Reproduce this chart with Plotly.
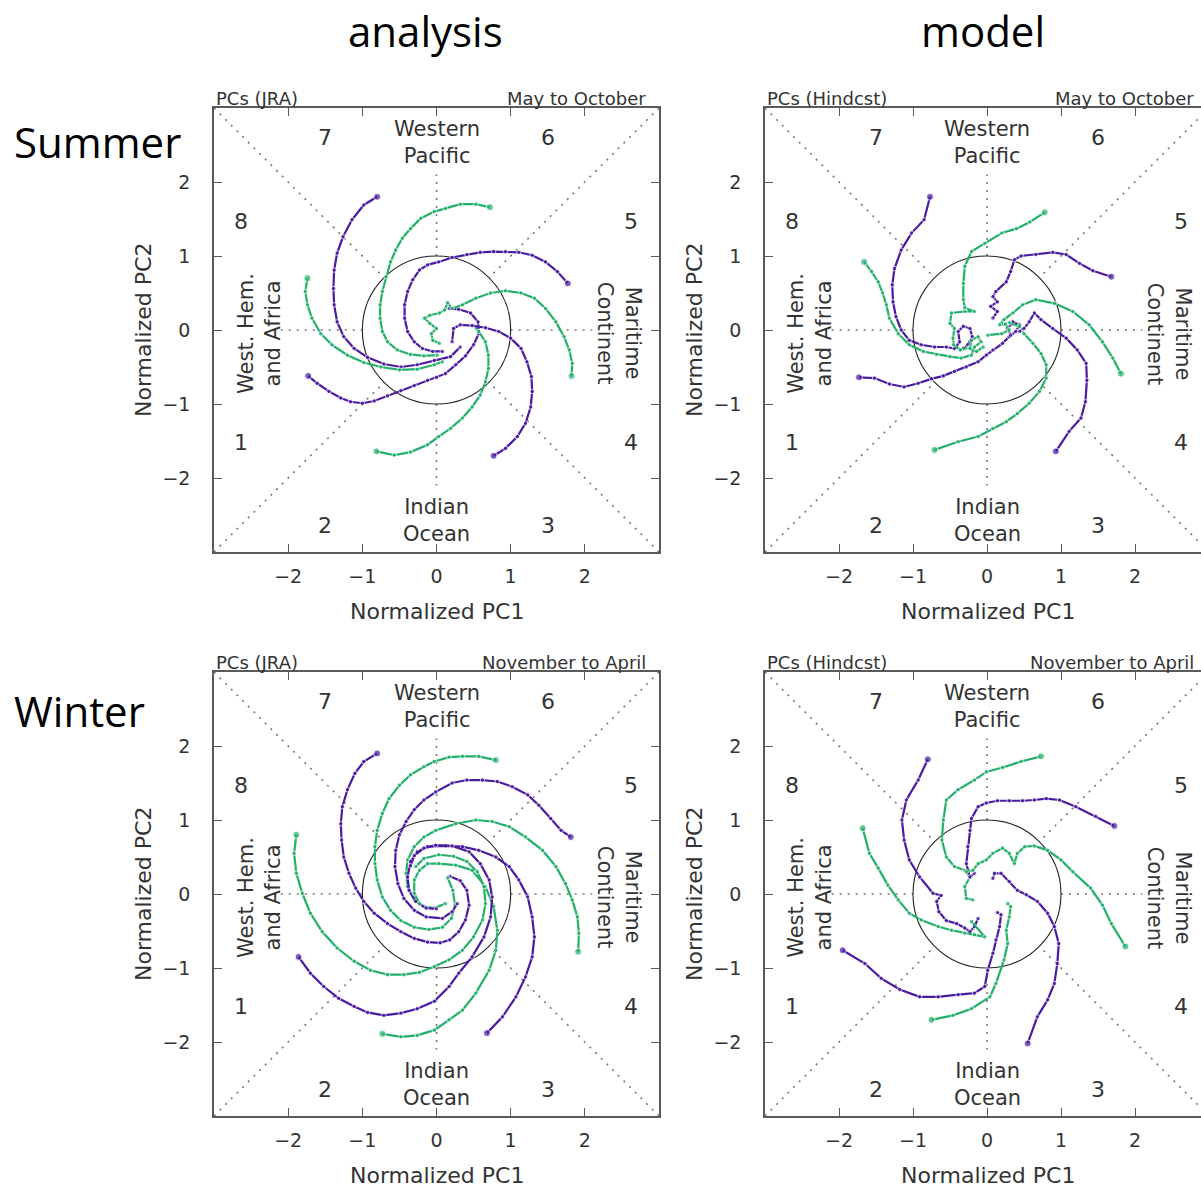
import plotly.graph_objects as go

PURPLE = '#4a1aa0'
GREEN = '#22b06a'

# ---------------- Summer / analysis (PCs JRA, May to October) ----------------
sa_purple_1 = [(-0.80,1.80),(-0.98,1.69),(-1.14,1.49),(-1.26,1.26),(-1.34,1.04),(-1.38,0.81),(-1.39,0.56),(-1.38,0.34),(-1.34,0.11),(-1.25,-0.09),(-1.11,-0.25),(-0.93,-0.37),(-0.71,-0.46),(-0.48,-0.50),(-0.26,-0.47),(-0.03,-0.41),(0.19,-0.36),(0.32,-0.23)]
sa_green_1 = [(0.72,1.66),(0.53,1.70),(0.32,1.70),(0.12,1.64),(-0.03,1.60),(-0.21,1.51),(-0.35,1.37),(-0.46,1.24),(-0.55,1.08),(-0.62,0.92),(-0.68,0.72),(-0.73,0.52),(-0.76,0.34),(-0.76,0.16),(-0.73,-0.02),(-0.66,-0.16),(-0.53,-0.27),(-0.35,-0.33),(-0.17,-0.35),(0.01,-0.34)]
sa_green_2 = [(-1.74,0.70),(-1.77,0.52),(-1.74,0.34),(-1.68,0.16),(-1.56,-0.05),(-1.41,-0.20),(-1.20,-0.34),(-0.98,-0.44),(-0.75,-0.50),(-0.50,-0.54),(-0.26,-0.53),(-0.03,-0.47),(0.08,-0.43)]
sa_purple_2 = [(-1.73,-0.62),(-1.61,-0.72),(-1.45,-0.83),(-1.29,-0.92),(-1.16,-0.97),(-1.00,-0.99),(-0.84,-0.96),(-0.66,-0.89),(-0.48,-0.82),(-0.30,-0.75),(-0.12,-0.68),(0.00,-0.64),(0.12,-0.59),(0.26,-0.47),(0.39,-0.35),(0.50,-0.20),(0.57,-0.05),(0.56,0.11),(0.46,0.23),(0.30,0.28),(0.17,0.29)]
sa_green_3 = [(-0.81,-1.64),(-0.57,-1.69),(-0.35,-1.65),(-0.12,-1.55),(0.03,-1.44),(0.19,-1.33),(0.35,-1.19),(0.48,-1.04),(0.59,-0.88),(0.66,-0.70),(0.70,-0.52),(0.70,-0.34),(0.66,-0.16),(0.57,-0.02),(0.50,0.06)]
sa_purple_3 = [(0.77,-1.70),(0.93,-1.60),(1.09,-1.44),(1.20,-1.26),(1.27,-1.04),(1.29,-0.83),(1.28,-0.63),(1.22,-0.43),(1.14,-0.25),(1.00,-0.11),(0.84,-0.02),(0.66,0.03),(0.48,0.06),(0.32,0.07),(0.23,0.02),(0.21,-0.16)]
sa_green_4 = [(1.82,-0.62),(1.83,-0.45),(1.79,-0.27),(1.72,-0.09),(1.61,0.11),(1.47,0.29),(1.32,0.43),(1.14,0.50),(0.93,0.53),(0.73,0.50),(0.53,0.43),(0.35,0.34),(0.21,0.29),(0.15,0.37),(0.11,0.27),(0.04,0.23),(-0.09,0.20),(-0.16,0.16),(-0.09,0.09),(0.00,0.02),(-0.07,-0.05),(-0.05,-0.14),(0.04,-0.18)]
sa_purple_4 = [(1.77,0.63),(1.63,0.79),(1.47,0.92),(1.29,1.01),(1.11,1.05),(0.93,1.06),(0.77,1.06),(0.59,1.05),(0.41,1.02),(0.21,0.98),(0.03,0.92),(-0.12,0.88),(-0.23,0.81),(-0.32,0.68),(-0.39,0.52),(-0.43,0.34),(-0.43,0.16),(-0.39,-0.02),(-0.30,-0.16),(-0.19,-0.25),(-0.05,-0.29),(0.08,-0.29)]

# ---------------- Summer / model (PCs Hindcst, May to October) ----------------
sm_purple_1 = [(-0.77,1.80),(-0.85,1.49),(-1.02,1.31),(-1.16,1.08),(-1.25,0.83),(-1.28,0.61),(-1.27,0.38),(-1.23,0.18),(-1.16,0.00),(-1.05,-0.14),(-0.89,-0.20),(-0.71,-0.23),(-0.55,-0.23),(-0.44,-0.25),(-0.37,-0.16),(-0.39,-0.02),(-0.32,0.05),(-0.23,0.02),(-0.20,-0.09),(-0.26,-0.20),(-0.32,-0.25)]
sm_green_1 = [(0.78,1.59),(0.58,1.46),(0.40,1.37),(0.20,1.31),(-0.03,1.17),(-0.21,1.06),(-0.30,0.86),(-0.32,0.63),(-0.32,0.41),(-0.30,0.30),(-0.17,0.25),(-0.30,0.25),(-0.48,0.23),(-0.50,0.09),(-0.44,0.02),(-0.46,-0.11),(-0.45,-0.20),(-0.36,-0.27),(-0.23,-0.23)]
sm_green_2 = [(-1.66,0.92),(-1.56,0.79),(-1.47,0.65),(-1.41,0.50),(-1.36,0.34),(-1.32,0.16),(-1.20,-0.05),(-1.05,-0.20),(-0.86,-0.29),(-0.68,-0.33),(-0.50,-0.36),(-0.35,-0.38),(-0.21,-0.34),(-0.17,-0.23),(-0.08,-0.16),(-0.12,-0.09),(-0.21,-0.14),(-0.23,-0.25),(-0.14,-0.29),(-0.05,-0.23)]
sm_purple_2 = [(-1.73,-0.64),(-1.52,-0.65),(-1.32,-0.73),(-1.12,-0.77),(-0.93,-0.72),(-0.75,-0.66),(-0.59,-0.62),(-0.44,-0.56),(-0.28,-0.50),(-0.12,-0.43),(-0.01,-0.34),(0.08,-0.27),(0.21,-0.18),(0.30,-0.09),(0.39,-0.02),(0.44,0.07),(0.35,0.11),(0.28,0.02),(0.32,-0.07)]
sm_green_3 = [(-0.71,-1.62),(-0.39,-1.51),(-0.12,-1.44),(0.08,-1.33),(0.26,-1.24),(0.41,-1.13),(0.57,-0.99),(0.71,-0.83),(0.80,-0.65),(0.80,-0.47),(0.73,-0.32),(0.62,-0.18),(0.50,-0.05),(0.44,0.05),(0.30,0.10)]
sm_purple_3 = [(0.93,-1.64),(1.11,-1.37),(1.27,-1.19),(1.33,-0.97),(1.35,-0.68),(1.34,-0.45),(1.22,-0.27),(1.07,-0.11),(0.89,0.02),(0.73,0.14),(0.64,0.23),(0.57,0.11),(0.50,0.02),(0.44,-0.02)]
sm_purple_4 = [(1.68,0.72),(1.43,0.80),(1.25,0.90),(1.07,1.02),(0.89,1.05),(0.66,1.02),(0.46,1.00),(0.37,0.95),(0.32,0.79),(0.26,0.65),(0.12,0.52),(0.08,0.45),(0.14,0.38),(0.05,0.32),(0.14,0.25),(0.08,0.16)]
sm_green_4 = [(1.81,-0.59),(1.70,-0.38),(1.56,-0.16),(1.38,0.07),(1.16,0.25),(0.91,0.36),(0.66,0.41),(0.48,0.34),(0.35,0.23),(0.23,0.14),(0.17,0.07),(0.25,0.08),(0.30,0.00),(0.20,-0.05),(0.01,-0.07)]

# ---------------- Winter / analysis (PCs JRA, November to April) ----------------
wa_purple_1 = [(-0.80,1.90),(-0.98,1.79),(-1.10,1.63),(-1.20,1.41),(-1.27,1.18),(-1.29,0.95),(-1.28,0.73),(-1.25,0.50),(-1.18,0.28),(-1.09,0.08),(-0.98,-0.10),(-0.84,-0.26),(-0.66,-0.40),(-0.48,-0.51),(-0.30,-0.60),(-0.12,-0.65),(0.05,-0.66),(0.18,-0.62),(0.30,-0.51),(0.39,-0.35),(0.44,-0.15),(0.41,0.05),(0.32,0.18),(0.18,0.24)]
wa_green_1 = [(0.80,1.81),(0.57,1.86),(0.35,1.86),(0.17,1.85),(-0.03,1.79),(-0.17,1.72),(-0.35,1.61),(-0.50,1.47),(-0.64,1.29),(-0.73,1.09),(-0.80,0.86),(-0.83,0.64),(-0.83,0.41),(-0.80,0.19),(-0.73,-0.04),(-0.62,-0.22),(-0.48,-0.36),(-0.30,-0.45),(-0.10,-0.48),(0.08,-0.45),(0.20,-0.33),(0.25,-0.15),(0.22,0.05),(0.15,0.22)]
wa_purple_2 = [(1.81,0.77),(1.68,0.86),(1.54,1.02),(1.38,1.20),(1.23,1.34),(1.02,1.45),(0.82,1.52),(0.62,1.54),(0.41,1.54),(0.21,1.50),(-0.01,1.38),(-0.17,1.27),(-0.30,1.14),(-0.41,0.98),(-0.50,0.80),(-0.55,0.59),(-0.56,0.37),(-0.52,0.14),(-0.44,-0.06),(-0.30,-0.22),(-0.14,-0.31),(0.08,-0.33),(0.21,-0.24),(0.28,-0.13)]
wa_green_2 = [(1.91,-0.78),(1.92,-0.53),(1.90,-0.31),(1.83,-0.08),(1.74,0.14),(1.61,0.37),(1.43,0.59),(1.20,0.77),(0.98,0.91),(0.75,0.98),(0.53,1.00),(0.26,0.95),(-0.01,0.86),(-0.17,0.77),(-0.30,0.64),(-0.39,0.46),(-0.41,0.28),(-0.39,0.10),(-0.30,-0.08),(-0.17,-0.17),(-0.03,-0.19),(0.12,-0.13)]
wa_purple_3 = [(0.68,-1.88),(0.89,-1.66),(1.07,-1.39),(1.20,-1.12),(1.29,-0.85),(1.32,-0.58),(1.29,-0.31),(1.23,-0.04),(1.11,0.19),(0.98,0.37),(0.80,0.50),(0.57,0.59),(0.35,0.64),(0.12,0.65),(-0.12,0.64),(-0.26,0.57),(-0.35,0.44),(-0.39,0.23),(-0.37,0.05),(-0.28,-0.10),(-0.14,-0.19),(0.00,-0.20)]
wa_green_3 = [(-0.73,-1.89),(-0.48,-1.93),(-0.26,-1.91),(-0.03,-1.84),(0.17,-1.70),(0.35,-1.57),(0.53,-1.34),(0.71,-1.03),(0.80,-0.76),(0.82,-0.49),(0.77,-0.17),(0.66,0.10),(0.48,0.32),(0.26,0.39),(0.03,0.41),(-0.12,0.41),(-0.23,0.32),(-0.30,0.19),(-0.30,0.01),(-0.23,-0.13)]
wa_purple_4 = [(-1.86,-0.85),(-1.70,-1.07),(-1.52,-1.25),(-1.32,-1.41),(-1.11,-1.52),(-0.93,-1.60),(-0.71,-1.64),(-0.48,-1.61),(-0.26,-1.55),(-0.03,-1.45),(0.17,-1.25),(0.30,-1.07),(0.48,-0.85),(0.64,-0.58),(0.73,-0.31),(0.75,-0.04),(0.71,0.19),(0.59,0.41),(0.44,0.57),(0.21,0.65),(-0.01,0.66),(-0.17,0.62),(-0.30,0.52),(-0.35,0.38)]
wa_green_4 = [(-1.89,0.80),(-1.92,0.55),(-1.89,0.28),(-1.81,0.01),(-1.70,-0.26),(-1.54,-0.51),(-1.34,-0.73),(-1.11,-0.91),(-0.89,-1.03),(-0.66,-1.09),(-0.44,-1.09),(-0.23,-1.06),(-0.03,-0.98),(0.17,-0.89),(0.35,-0.76),(0.50,-0.58),(0.62,-0.35),(0.66,-0.13),(0.64,0.10),(0.55,0.30),(0.41,0.44),(0.23,0.51),(0.03,0.53),(-0.17,0.48),(-0.28,0.37)]

# ---------------- Winter / model (PCs Hindcst, November to April) ----------------
wm_purple_1 = [(-0.80,1.82),(-0.93,1.54),(-1.09,1.27),(-1.15,1.00),(-1.12,0.73),(-1.05,0.46),(-0.91,0.23),(-0.73,0.01),(-0.62,-0.02),(-0.68,-0.10),(-0.65,-0.24),(-0.55,-0.36),(-0.41,-0.40),(-0.30,-0.46),(-0.23,-0.51),(-0.17,-0.44),(-0.12,-0.33)]
wm_green_1 = [(0.73,1.86),(0.46,1.79),(0.21,1.71),(-0.01,1.65),(-0.17,1.54),(-0.39,1.41),(-0.55,1.27),(-0.59,1.00),(-0.61,0.73),(-0.55,0.50),(-0.44,0.37),(-0.30,0.32),(-0.23,0.23),(-0.30,0.10),(-0.28,-0.06),(-0.19,-0.08)]
wm_purple_2 = [(1.72,0.92),(1.47,1.05),(1.20,1.18),(0.98,1.27),(0.80,1.29),(0.64,1.27),(0.48,1.26),(0.30,1.26),(0.14,1.26),(-0.01,1.23),(-0.12,1.18),(-0.21,1.02),(-0.23,0.86),(-0.26,0.64),(-0.28,0.41),(-0.23,0.23),(-0.17,0.28)]
wm_green_2 = [(1.87,-0.71),(1.68,-0.40),(1.56,-0.15),(1.40,0.08),(1.16,0.30),(1.00,0.46),(0.82,0.59),(0.64,0.65),(0.51,0.64),(0.41,0.55),(0.37,0.41),(0.30,0.55),(0.21,0.62),(0.08,0.55),(-0.01,0.46),(-0.12,0.41),(-0.19,0.32),(-0.28,0.30)]
wm_purple_3 = [(0.55,-2.02),(0.68,-1.66),(0.82,-1.43),(0.91,-1.21),(0.95,-0.94),(0.97,-0.67),(0.91,-0.44),(0.82,-0.26),(0.68,-0.10),(0.53,-0.01),(0.41,0.05),(0.30,0.17),(0.19,0.28),(0.10,0.28),(0.08,0.21)]
wm_green_3 = [(-0.75,-1.70),(-0.46,-1.64),(-0.21,-1.55),(0.04,-1.39),(0.12,-1.21),(0.23,-0.89),(0.28,-0.67),(0.26,-0.49),(0.30,-0.31),(0.32,-0.17),(0.28,-0.13)]
wm_purple_4 = [(-1.95,-0.76),(-1.65,-0.94),(-1.43,-1.14),(-1.18,-1.29),(-0.91,-1.39),(-0.66,-1.39),(-0.39,-1.36),(-0.17,-1.34),(-0.03,-1.25),(0.01,-1.03),(0.08,-0.80),(0.12,-0.62),(0.17,-0.44),(0.19,-0.28),(0.14,-0.25)]
wm_green_4 = [(-1.68,0.89),(-1.59,0.55),(-1.47,0.35),(-1.34,0.12),(-1.20,-0.08),(-1.05,-0.26),(-0.89,-0.35),(-0.66,-0.44),(-0.48,-0.49),(-0.30,-0.53),(-0.17,-0.55),(-0.03,-0.58),(-0.21,-0.37)]

# ---------------- text ----------------
column_titles = ['analysis', 'model']
row_titles = ['Summer', 'Winter']
left_headers = ['PCs (JRA)', 'PCs (Hindcst)', 'PCs (JRA)', 'PCs (Hindcst)']
right_headers = ['May to October', 'May to October', 'November to April', 'November to April']
tick_values = [-2, -1, 0, 1, 2]
phase_labels = ['1', '2', '3', '4', '5', '6', '7', '8']
phase_pos = [(-2.63, -1.52), (-1.5, -2.64), (1.5, -2.64), (2.62, -1.52),
             (2.62, 1.46), (1.5, 2.6), (-1.5, 2.6), (-2.63, 1.46)]

W, H = 1201, 1188
FONT = 'DejaVu Sans'
TXT = '#333333'
FRAME = '#5a5a5a'

panels = [
    dict(x0=214, x1=659, y0=108, y1=552, xr=[-3, 3],
         trajs=[(sa_purple_1, PURPLE), (sa_green_1, GREEN), (sa_green_2, GREEN), (sa_purple_2, PURPLE),
                (sa_green_3, GREEN), (sa_purple_3, PURPLE), (sa_green_4, GREEN), (sa_purple_4, PURPLE)]),
    dict(x0=765, x1=1201, y0=108, y1=552, xr=[-3, (1201 - 987) / 74.0],
         trajs=[(sm_purple_1, PURPLE), (sm_green_1, GREEN), (sm_green_2, GREEN), (sm_purple_2, PURPLE),
                (sm_green_3, GREEN), (sm_purple_3, PURPLE), (sm_purple_4, PURPLE), (sm_green_4, GREEN)]),
    dict(x0=214, x1=659, y0=672, y1=1116, xr=[-3, 3],
         trajs=[(wa_purple_1, PURPLE), (wa_green_1, GREEN), (wa_purple_2, PURPLE), (wa_green_2, GREEN),
                (wa_purple_3, PURPLE), (wa_green_3, GREEN), (wa_purple_4, PURPLE), (wa_green_4, GREEN)]),
    dict(x0=765, x1=1201, y0=672, y1=1116, xr=[-3, (1201 - 987) / 74.0],
         trajs=[(wm_purple_1, PURPLE), (wm_green_1, GREEN), (wm_purple_2, PURPLE), (wm_green_2, GREEN),
                (wm_purple_3, PURPLE), (wm_green_3, GREEN), (wm_purple_4, PURPLE), (wm_green_4, GREEN)]),
]

fig = go.Figure()
shapes = []
annotations = []
layout = {}


def ann(**kw):
    base = dict(showarrow=False, xanchor='center', yanchor='middle')
    base.update(kw)
    annotations.append(base)


for i, p in enumerate(panels, start=1):
    sx = '' if i == 1 else str(i)
    xref, yref = 'x' + sx, 'y' + sx
    right_cut = p['x1'] >= W
    layout['xaxis' + sx] = dict(
        domain=[p['x0'] / W, p['x1'] / W], range=p['xr'], anchor=yref,
        tickvals=tick_values, ticks='inside', ticklen=8, tickwidth=1.2, tickcolor=FRAME,
        showline=True, linecolor=FRAME, linewidth=1.6, mirror='ticks',
        showgrid=False, zeroline=False, ticklabelstandoff=6,
        tickfont=dict(family=FONT, size=19, color=TXT), fixedrange=True)
    layout['yaxis' + sx] = dict(
        domain=[1 - p['y1'] / H, 1 - p['y0'] / H], range=[-3, 3], anchor=xref,
        tickvals=tick_values, ticks='inside', ticklen=8, tickwidth=1.2, tickcolor=FRAME,
        showline=True, linecolor=FRAME, linewidth=1.6, mirror=False if right_cut else 'ticks',
        showgrid=False, zeroline=False, ticklabelstandoff=18,
        tickfont=dict(family=FONT, size=19, color=TXT), fixedrange=True)

    dot = dict(color='#777777', width=1.6, dash='2px,6px')
    r = 0.7071
    for sxn, syn in [(-1, -1), (-1, 1), (1, -1), (1, 1)]:
        shapes.append(dict(type='line', xref=xref, yref=yref, x0=3 * sxn, y0=3 * syn,
                           x1=r * sxn, y1=r * syn, line=dot, layer='below'))
    for a, b, c, d in [(-2.1, 0, -1, 0), (1, 0, 2.1, 0), (0, 1, 0, 2.1), (0, -1, 0, -2.1)]:
        shapes.append(dict(type='line', xref=xref, yref=yref, x0=a, y0=b, x1=c, y1=d,
                           line=dot, layer='below'))
    shapes.append(dict(type='circle', xref=xref, yref=yref, x0=-1, y0=-1, x1=1, y1=1,
                       line=dict(color='#222222', width=1.1), layer='below'))

    for traj, col in p['trajs']:
        xs = [q[0] for q in traj]
        ys = [q[1] for q in traj]
        fig.add_trace(go.Scatter(
            x=xs, y=ys, xaxis=xref, yaxis=yref, mode='lines+markers',
            line=dict(color=col, width=2.2),
            marker=dict(color=col, size=[7] + [4.5] * (len(xs) - 1)),
            showlegend=False, hoverinfo='skip'))

    tf = dict(family=FONT, size=22, color=TXT)
    for lab, (px, py) in zip(phase_labels, phase_pos):
        ann(text=lab, x=px, y=py, xref=xref, yref=yref, font=tf)
    rf = dict(family=FONT, size=21, color=TXT)
    ann(text='Western<br>Pacific', x=0, y=2.53, xref=xref, yref=yref, font=rf)
    ann(text='Indian<br>Ocean', x=0, y=-2.57, xref=xref, yref=yref, font=rf)
    ann(text='West. Hem.<br>and Africa', x=-2.39, y=-0.05, xref=xref, yref=yref, font=rf, textangle=-90)
    ann(text='Maritime<br>Continent', x=2.46, y=-0.05, xref=xref, yref=yref, font=rf, textangle=90)

    hf = dict(family=FONT, size=18, color=TXT)
    ann(text=left_headers[i - 1], x=-3, y=1 - p['y0'] / H, xref=xref, yref='paper',
        xanchor='left', yanchor='bottom', font=hf, yshift=-3)
    ann(text=right_headers[i - 1], x=2.85 if not right_cut else 2.82,
        y=1 - p['y0'] / H, xref=xref, yref='paper',
        xanchor='right', yanchor='bottom', font=hf, yshift=-3)

    af = dict(family=FONT, size=22, color=TXT)
    ann(text='Normalized PC1', x=(p['x0'] + 223) / W, y=1 - (p['y1'] + 59) / H,
        xref='paper', yref='paper', font=af)
    ann(text='Normalized PC2', x=(p['x0'] - 71) / W, y=1 - (p['y0'] + 222) / H,
        xref='paper', yref='paper', font=af, textangle=-90)

bf = dict(family='Open Sans', size=42, color='black')
ann(text=column_titles[0], x=425 / W, y=1 - 31 / H, xref='paper', yref='paper', font=bf)
ann(text=column_titles[1], x=983 / W, y=1 - 31 / H, xref='paper', yref='paper', font=bf)
ann(text=row_titles[0], x=12 / W, y=1 - 142 / H, xref='paper', yref='paper', xanchor='left', font=bf)
ann(text=row_titles[1], x=12 / W, y=1 - 710 / H, xref='paper', yref='paper', xanchor='left', font=bf)

fig.update_layout(width=W, height=H, margin=dict(l=0, r=0, t=0, b=0),
                  paper_bgcolor='white', plot_bgcolor='white',
                  shapes=shapes, annotations=annotations, **layout)
fig.write_html('out.html', config={'displayModeBar': False})
